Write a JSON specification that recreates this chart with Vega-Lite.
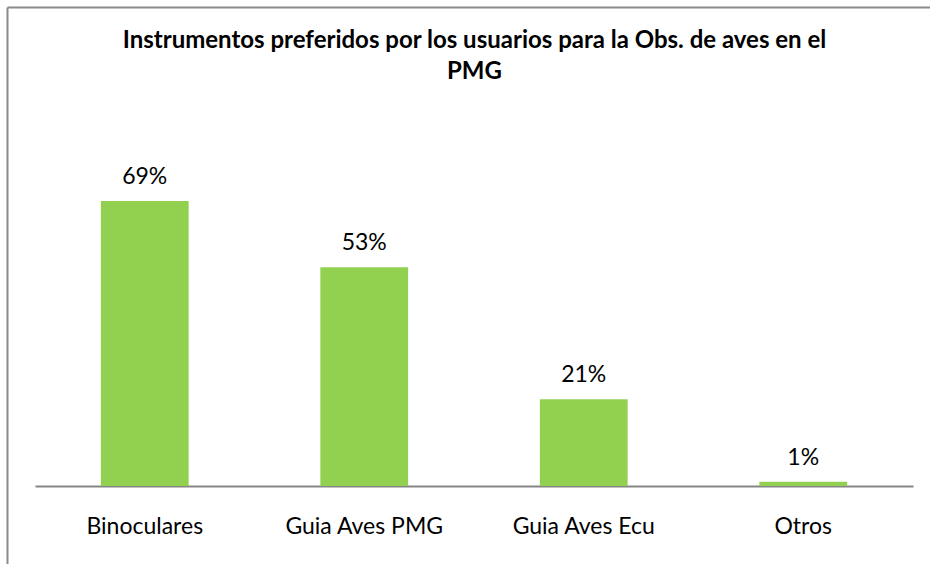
{
  "$schema": "https://vega.github.io/schema/vega-lite/v6.json",
  "width": 923,
  "height": 557,
  "autosize": {"type": "none"},
  "padding": {"left": 7, "top": 7, "right": 0, "bottom": 0},
  "background": "white",
  "config": {"view": {"stroke": null}, "font": "Lato"},
  "title": {
    "text": ["Instrumentos preferidos por los usuarios para la Obs. de aves en el", "PMG"],
    "font": "Lato",
    "fontSize": 24,
    "fontWeight": "bold",
    "color": "black",
    "anchor": "middle",
    "baseline": "alphabetic",
    "offset": 0,
    "dy": 96,
    "dx": 6,
    "lineHeight": 31
  },
  "data": {
    "values": [
      {"instrumento": "Binoculares", "pct": 0.69},
      {"instrumento": "Guia Aves PMG", "pct": 0.53},
      {"instrumento": "Guia Aves Ecu", "pct": 0.21},
      {"instrumento": "Otros", "pct": 0.01}
    ]
  },
  "layer": [
    {
      "encoding": {
        "x": {
          "field": "instrumento",
          "type": "nominal",
          "sort": null,
          "scale": {"range": [28, 906], "paddingInner": 0.6, "paddingOuter": 0.3},
          "axis": {
            "orient": "bottom",
            "offset": -78,
            "domain": true,
            "domainColor": "#868686",
            "domainWidth": 2,
            "ticks": false,
            "labelAngle": 0,
            "labelFont": "Lato",
            "labelFontSize": 23,
            "labelColor": "black",
            "labelPadding": 29,
            "title": null
          }
        },
        "y": {
          "field": "pct",
          "type": "quantitative",
          "scale": {"domain": [-0.189, 1.16], "nice": false, "zero": false},
          "axis": {
            "orient": "left",
            "domain": true,
            "domainColor": "#8a8a8a",
            "domainWidth": 2,
            "ticks": false,
            "labels": false,
            "grid": false,
            "title": null
          }
        }
      },
      "layer": [
        {
          "mark": {"type": "bar", "color": "#92d050"},
          "encoding": {"y2": {"datum": 0}}
        },
        {
          "mark": {"type": "text", "font": "Lato", "fontSize": 23, "color": "black", "baseline": "alphabetic", "dy": -17},
          "encoding": {"text": {"field": "pct", "type": "quantitative", "format": ".0%"}}
        }
      ]
    },
    {
      "mark": {"type": "point", "opacity": 0},
      "encoding": {
        "x": {
          "field": "pct",
          "type": "quantitative",
          "scale": {"domain": [0, 1], "nice": false},
          "axis": {
            "orient": "top",
            "domain": true,
            "domainColor": "#8a8a8a",
            "domainWidth": 2,
            "ticks": false,
            "labels": false,
            "grid": false,
            "title": null
          }
        }
      }
    }
  ],
  "resolve": {"scale": {"x": "independent"}, "axis": {"x": "independent"}}
}
